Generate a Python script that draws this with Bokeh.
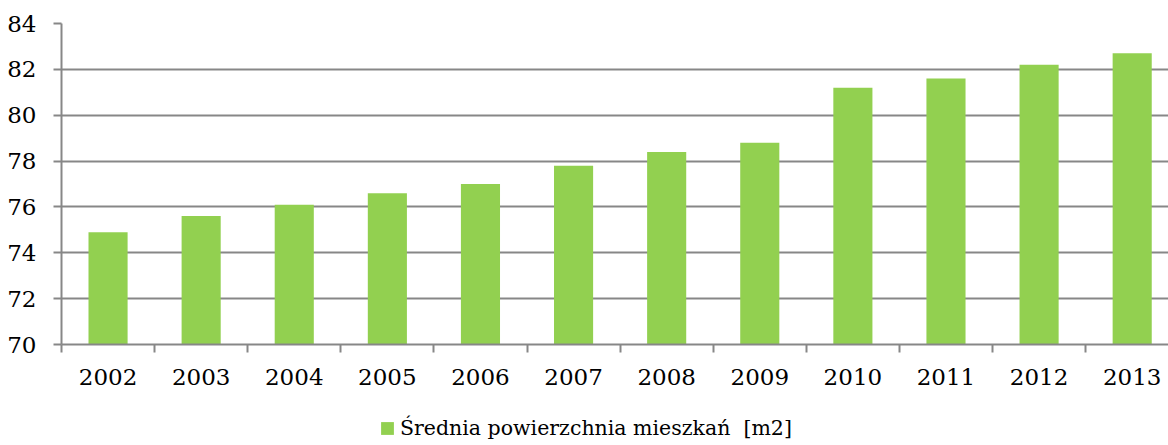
from bokeh.plotting import figure
from bokeh.models import ColumnDataSource, FixedTicker, Range1d, Legend, LegendItem
from bokeh.layouts import column
from bokeh.embed import file_html
from bokeh.resources import INLINE

years = ["2002", "2003", "2004", "2005", "2006", "2007", "2008", "2009", "2010", "2011", "2012", "2013"]
values = [74.9, 75.6, 76.1, 76.6, 77.0, 77.8, 78.4, 78.8, 81.2, 81.6, 82.2, 82.7]
series_name = "Średnia powierzchnia mieszkań  [m2]"
y_ticks = [70, 72, 74, 76, 78, 80, 82, 84]

FONT = "DejaVu Serif"
GRID = "#878787"
GREEN = "#92D050"

xs = list(range(len(years)))
source = ColumnDataSource(dict(x=xs, top=values, year=years))

p = figure(width=1168, height=410, output_backend="svg", toolbar_location=None,
           x_range=Range1d(-0.5, 11.39), y_range=Range1d(70, 84),
           min_border_left=61, min_border_right=0, min_border_top=23, min_border_bottom=66)
p.outline_line_color = None
p.background_fill_color = "white"
p.border_fill_color = "white"

r = p.vbar(x="x", top="top", bottom=70, width=0.42, source=source,
           fill_color=GREEN, line_color=None)

# y axis
p.yaxis.ticker = FixedTicker(ticks=y_ticks)
p.yaxis.axis_line_color = GRID
p.yaxis.axis_line_width = 2
p.yaxis.major_tick_line_color = GRID
p.yaxis.major_tick_line_width = 2
p.yaxis.major_tick_out = 8
p.yaxis.major_tick_in = 0
p.yaxis.minor_tick_line_color = None
p.yaxis.major_label_standoff = 17
p.yaxis.major_label_text_font = FONT
p.yaxis.major_label_text_font_size = "23px"
p.yaxis.major_label_text_color = "black"

# x axis: labels at category centers, tick marks at category boundaries
p.xaxis.ticker = FixedTicker(ticks=xs, minor_ticks=[i - 0.5 for i in range(len(years) + 1)])
p.xaxis.major_label_overrides = {i: y for i, y in enumerate(years)}
p.xaxis.axis_line_color = GRID
p.xaxis.axis_line_width = 2
p.xaxis.major_tick_line_color = None
p.xaxis.minor_tick_line_color = GRID
p.xaxis.minor_tick_line_width = 2
p.xaxis.minor_tick_out = 8
p.xaxis.minor_tick_in = 0
p.xaxis.major_label_standoff = 16
p.xaxis.major_label_text_font = FONT
p.xaxis.major_label_text_font_size = "23px"
p.xaxis.major_label_text_color = "black"

p.xgrid.grid_line_color = None
p.ygrid.ticker = FixedTicker(ticks=y_ticks)
p.ygrid.grid_line_color = GRID
p.ygrid.grid_line_width = 2

# legend strip below the chart (same series; its bars lie outside this strip's ranges)
p2 = figure(width=1168, height=35, output_backend="svg", toolbar_location=None,
            x_axis_location=None, y_axis_location=None,
            x_range=Range1d(-101, -100), y_range=Range1d(0, 1),
            min_border=0, min_border_left=0, min_border_right=0,
            min_border_top=0, min_border_bottom=0)
p2.grid.visible = False
p2.outline_line_color = None
r2 = p2.vbar(x="x", top="top", bottom=70, width=0.42, source=source,
             fill_color=GREEN, line_color=None)
legend = Legend(items=[LegendItem(label=series_name, renderers=[r2])],
                orientation="horizontal", location=(318, 5),
                label_text_font=FONT, label_text_font_size="20.5px",
                label_text_color="black",
                glyph_width=16, glyph_height=16, label_standoff=5,
                border_line_color=None, background_fill_alpha=0,
                padding=0, margin=0, spacing=0)
p2.add_layout(legend, "center")

layout = column(p, p2, spacing=0)
open("out.html", "w").write(file_html(layout, INLINE))
